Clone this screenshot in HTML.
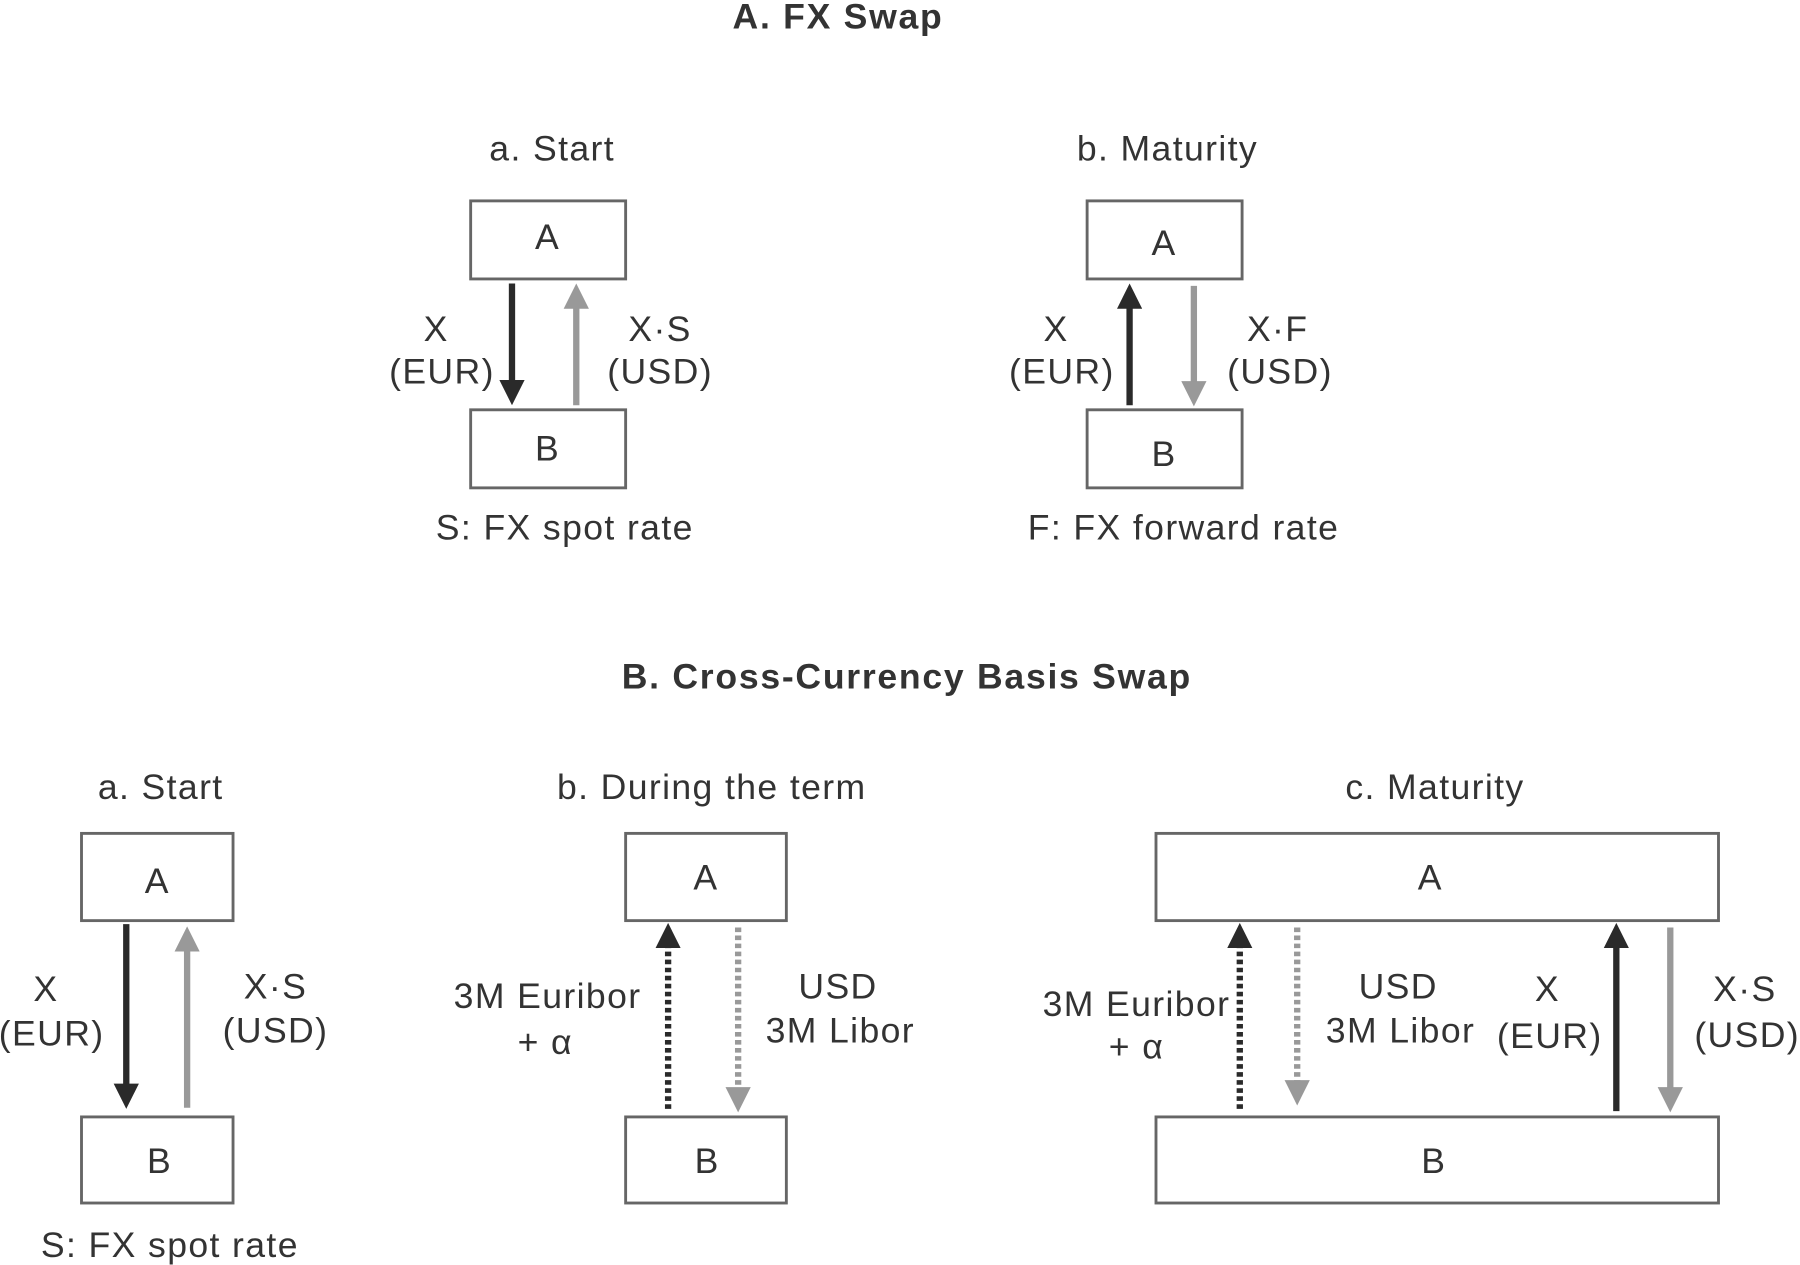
<!DOCTYPE html>
<html><head><meta charset="utf-8"><style>
html,body{margin:0;padding:0;background:#fff;}
svg{display:block;}
text{font-family:"Liberation Sans",sans-serif;fill:#333;}
</style></head><body>
<svg width="1800" height="1265" viewBox="0 0 1568 1102" preserveAspectRatio="none" xmlns="http://www.w3.org/2000/svg">
<defs>
<marker id="ad" markerWidth="4" markerHeight="4" refX="2" refY="2" orient="auto" markerUnits="strokeWidth" viewBox="0 0 4 4"><path d="M0,0 L4,2 L0,4 z" fill="#2a2a2a"/></marker>
<marker id="ag" markerWidth="4" markerHeight="4" refX="2" refY="2" orient="auto" markerUnits="strokeWidth" viewBox="0 0 4 4"><path d="M0,0 L4,2 L0,4 z" fill="#999"/></marker>
</defs>
<g fill="#fff" stroke="#666" stroke-width="2.5">
<rect x="410" y="175" width="135" height="68"/>
<rect x="410" y="357" width="135" height="68"/>
<rect x="947" y="175" width="135" height="68"/>
<rect x="947" y="357" width="135" height="68"/>
<rect x="71" y="726" width="132" height="76"/>
<rect x="71" y="973" width="132" height="75"/>
<rect x="545" y="726" width="140" height="76"/>
<rect x="545" y="973" width="140" height="75"/>
<rect x="1007" y="726" width="490" height="76"/>
<rect x="1007" y="973" width="490" height="75"/>
</g>
<g stroke-width="5.5" fill="none">
<line x1="446" y1="247" x2="446" y2="342" stroke="#2a2a2a" marker-end="url(#ad)"/>
<line x1="502" y1="353" x2="502" y2="258" stroke="#999" marker-end="url(#ag)"/>
<line x1="984" y1="353" x2="984" y2="258" stroke="#2a2a2a" marker-end="url(#ad)"/>
<line x1="1040" y1="249" x2="1040" y2="343" stroke="#999" marker-end="url(#ag)"/>
<line x1="110" y1="805" x2="110" y2="955" stroke="#2a2a2a" marker-end="url(#ad)"/>
<line x1="163" y1="965" x2="163" y2="818" stroke="#999" marker-end="url(#ag)"/>
<line x1="1408" y1="968" x2="1408" y2="815" stroke="#2a2a2a" marker-end="url(#ad)"/>
<line x1="1455" y1="808" x2="1455" y2="958" stroke="#999" marker-end="url(#ag)"/>
<line x1="582" y1="966" x2="582" y2="815" stroke="#2a2a2a" stroke-dasharray="4,3" marker-end="url(#ad)"/>
<line x1="643" y1="808" x2="643" y2="958" stroke="#999" stroke-dasharray="4,3" marker-end="url(#ag)"/>
<line x1="1080" y1="966" x2="1080" y2="815" stroke="#2a2a2a" stroke-dasharray="4,3" marker-end="url(#ad)"/>
<line x1="1130" y1="808" x2="1130" y2="952" stroke="#999" stroke-dasharray="4,3" marker-end="url(#ag)"/>
</g>
<g text-anchor="middle" font-size="31" letter-spacing="1.2">
<text x="730" y="25" font-weight="bold" font-size="31" letter-spacing="1.5">A. FX Swap</text>
<text x="790" y="600" font-weight="bold" font-size="31" letter-spacing="1.5">B. Cross-Currency Basis Swap</text>
<text x="481" y="140">a. Start</text>
<text x="1017" y="140">b. Maturity</text>
<text x="477" y="217">A</text>
<text x="477" y="401">B</text>
<text x="1014" y="222">A</text>
<text x="1014" y="406">B</text>
<text x="380" y="297">X</text>
<text x="385" y="334">(EUR)</text>
<text x="575" y="297">X·S</text>
<text x="575" y="334">(USD)</text>
<text x="920" y="297">X</text>
<text x="925" y="334">(EUR)</text>
<text x="1113" y="297">X·F</text>
<text x="1115" y="334">(USD)</text>
<text x="492" y="470">S: FX spot rate</text>
<text x="1031" y="470">F: FX forward rate</text>
<text x="140" y="696">a. Start</text>
<text x="620" y="696">b. During the term</text>
<text x="1250" y="696">c. Maturity</text>
<text x="137" y="778">A</text>
<text x="139" y="1022">B</text>
<text x="615" y="775">A</text>
<text x="616" y="1022">B</text>
<text x="1246" y="775">A</text>
<text x="1249" y="1022">B</text>
<text x="40" y="872">X</text>
<text x="45" y="911">(EUR)</text>
<text x="240" y="870">X·S</text>
<text x="240" y="908">(USD)</text>
<text x="148" y="1095">S: FX spot rate</text>
<text x="477" y="878">3M Euribor</text>
<text x="475" y="918">+ α</text>
<text x="730" y="870">USD</text>
<text x="732" y="908">3M Libor</text>
<text x="990" y="885">3M Euribor</text>
<text x="990" y="922">+ α</text>
<text x="1218" y="870">USD</text>
<text x="1220" y="908">3M Libor</text>
<text x="1348" y="872">X</text>
<text x="1350" y="913">(EUR)</text>
<text x="1520" y="872">X·S</text>
<text x="1522" y="912">(USD)</text>
</g>
</svg>
</body></html>
